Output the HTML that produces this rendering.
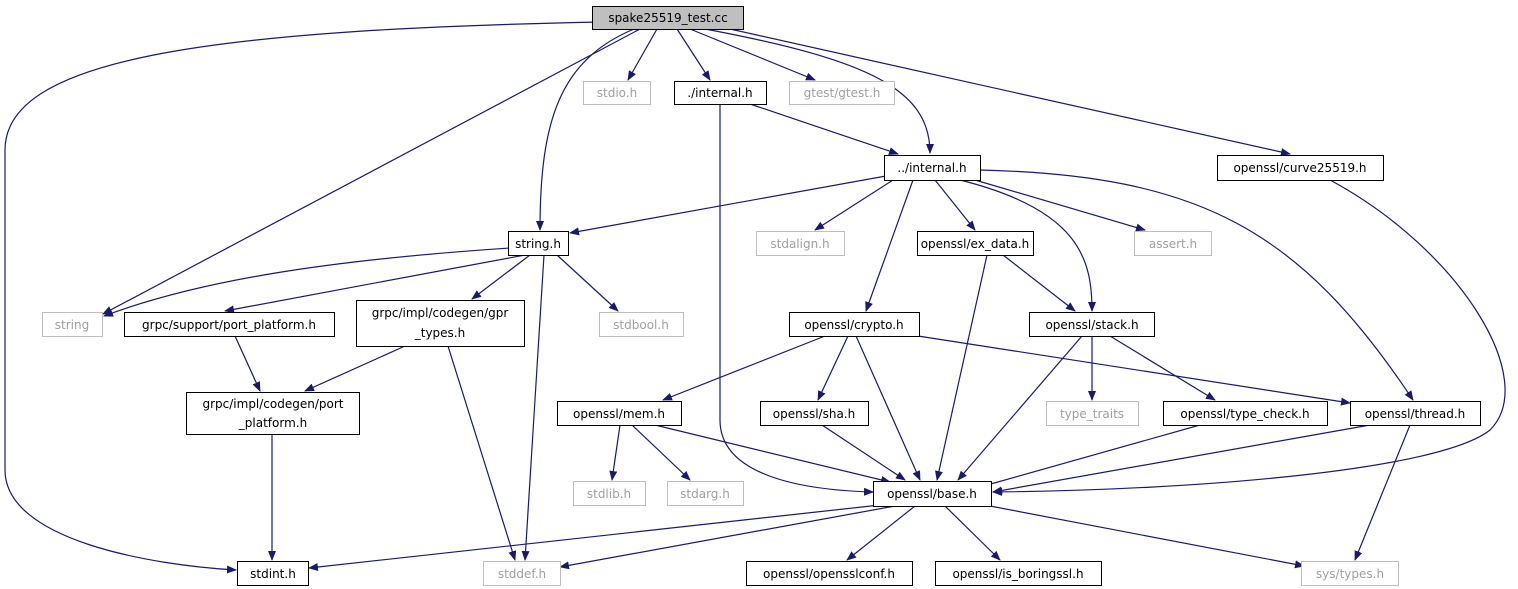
<!DOCTYPE html>
<html><head><meta charset="utf-8"><style>
html,body{margin:0;padding:0;background:#fff;}
svg{display:block;}
text{font-family:"DejaVu Sans","Liberation Sans",sans-serif;font-size:12px;text-anchor:middle;fill:#000;}
.n{fill:#fff;stroke:#000;stroke-width:1;}
.g{fill:#fff;stroke:#bfbfbf;stroke-width:1;}
.gt{fill:#a0a0a0;}
.e{fill:none;stroke:#191970;stroke-width:1.2;marker-end:url(#a);}
</style></head><body>
<svg width="1518" height="589" viewBox="0 0 1518 589">
<defs><marker id="a" markerWidth="10" markerHeight="8" refX="9" refY="4" orient="auto" markerUnits="userSpaceOnUse"><path d="M0,0 L10,4 L0,8 z" fill="#191970"/></marker></defs>
<!-- edges -->
<path class="e" d="M600,22 C200,30 5,60 5,150 L5,470 C5,540 150,565 236,570"/>
<path class="e" d="M640,29 L103,314"/>
<path class="e" d="M634,29 C560,60 540,120 540,230"/>
<path class="e" d="M657,29 L628,80"/>
<path class="e" d="M677,29 L710,80"/>
<path class="e" d="M690,29 L815,80"/>
<path class="e" d="M705,29 C870,60 930,90 930,153"/>
<path class="e" d="M730,29 L1290,154"/>
<path class="e" d="M750,104 L898,154"/>
<path class="e" d="M720,104 L720,420 C720,475 800,490 873,492"/>
<path class="e" d="M886,176 L570,233"/>
<path class="e" d="M893,180 L815,230"/>
<path class="e" d="M913,180 L866,311"/>
<path class="e" d="M935,180 L975,230"/>
<path class="e" d="M960,180 C1080,210 1092,260 1092,311"/>
<path class="e" d="M975,180 L1145,230"/>
<path class="e" d="M979,170 C1200,175 1300,230 1413,400"/>
<path class="e" d="M1330,180 C1460,250 1540,380 1490,430 C1440,470 1200,490 993,492"/>
<path class="e" d="M510,248 C330,260 200,280 104,316"/>
<path class="e" d="M525,255 L225,311"/>
<path class="e" d="M530,255 L472,299"/>
<path class="e" d="M557,255 L618,311"/>
<path class="e" d="M544,255 L525,560"/>
<path class="e" d="M235,336 L260,391"/>
<path class="e" d="M405,346 L305,391"/>
<path class="e" d="M448,346 L515,560"/>
<path class="e" d="M272,434 L272,560"/>
<path class="e" d="M987,255 L937,480"/>
<path class="e" d="M1003,255 L1075,311"/>
<path class="e" d="M825,336 L663,400"/>
<path class="e" d="M848,336 L818,400"/>
<path class="e" d="M856,336 L920,480"/>
<path class="e" d="M918,336 L1350,403"/>
<path class="e" d="M1082,336 L958,480"/>
<path class="e" d="M1092,336 L1092,400"/>
<path class="e" d="M1110,336 L1215,400"/>
<path class="e" d="M620,425 L612,480"/>
<path class="e" d="M632,425 L690,480"/>
<path class="e" d="M655,425 L890,482"/>
<path class="e" d="M822,425 L905,480"/>
<path class="e" d="M1200,425 L980,487"/>
<path class="e" d="M1370,425 L993,492"/>
<path class="e" d="M1410,425 L1355,560"/>
<path class="e" d="M880,505 L309,568"/>
<path class="e" d="M895,506 L560,567"/>
<path class="e" d="M915,506 L847,560"/>
<path class="e" d="M945,506 L1000,560"/>
<path class="e" d="M990,506 L1304,566"/>
<!-- nodes -->
<rect x="592.5" y="6.5" width="151" height="23" fill="#bfbfbf" stroke="#000"/><text x="668" y="22">spake25519_test.cc</text>
<rect class="g" x="583.5" y="81.5" width="67" height="23"/><text class="gt" x="617" y="97">stdio.h</text>
<rect class="n" x="674.5" y="81.5" width="92" height="23"/><text x="720" y="97">./internal.h</text>
<rect class="g" x="789.5" y="81.5" width="105" height="23"/><text class="gt" x="842" y="97">gtest/gtest.h</text>
<rect class="n" x="884.5" y="155.5" width="96" height="25"/><text x="932" y="172">../internal.h</text>
<rect class="n" x="1217.5" y="155.5" width="166" height="25"/><text x="1300" y="172">openssl/curve25519.h</text>
<rect class="n" x="508.5" y="231.5" width="60" height="24"/><text x="538" y="248">string.h</text>
<rect class="g" x="756.5" y="231.5" width="88" height="24"/><text class="gt" x="800" y="248">stdalign.h</text>
<rect class="n" x="917.5" y="231.5" width="116" height="24"/><text x="975" y="248">openssl/ex_data.h</text>
<rect class="g" x="1134.5" y="231.5" width="77" height="24"/><text class="gt" x="1173" y="248">assert.h</text>
<rect class="g" x="42.5" y="312.5" width="60" height="24"/><text class="gt" x="72" y="329">string</text>
<rect class="n" x="124.5" y="312.5" width="210" height="24"/><text x="229" y="329">grpc/support/port_platform.h</text>
<rect class="n" x="356.5" y="300.5" width="168" height="46"/><text x="440" y="317">grpc/impl/codegen/gpr</text><text x="440" y="337">_types.h</text>
<rect class="g" x="599.5" y="312.5" width="84" height="24"/><text class="gt" x="641" y="329">stdbool.h</text>
<rect class="n" x="789.5" y="312.5" width="130" height="24"/><text x="854" y="329">openssl/crypto.h</text>
<rect class="n" x="1029.5" y="312.5" width="125" height="24"/><text x="1092" y="329">openssl/stack.h</text>
<rect class="n" x="186.5" y="392.5" width="173" height="42"/><text x="273" y="408">grpc/impl/codegen/port</text><text x="273" y="427">_platform.h</text>
<rect class="n" x="557.5" y="401.5" width="124" height="24"/><text x="619" y="418">openssl/mem.h</text>
<rect class="n" x="760.5" y="401.5" width="108" height="24"/><text x="814" y="418">openssl/sha.h</text>
<rect class="g" x="1046.5" y="401.5" width="92" height="24"/><text class="gt" x="1092" y="418">type_traits</text>
<rect class="n" x="1163.5" y="401.5" width="164" height="24"/><text x="1245" y="418">openssl/type_check.h</text>
<rect class="n" x="1350.5" y="401.5" width="130" height="24"/><text x="1415" y="418">openssl/thread.h</text>
<rect class="g" x="573.5" y="481.5" width="72" height="24"/><text class="gt" x="609" y="498">stdlib.h</text>
<rect class="g" x="667.5" y="481.5" width="76" height="24"/><text class="gt" x="705" y="498">stdarg.h</text>
<rect class="n" x="873.5" y="481.5" width="118" height="25"/><text x="932" y="498">openssl/base.h</text>
<rect class="n" x="237.5" y="561.5" width="71" height="24"/><text x="273" y="578">stdint.h</text>
<rect class="g" x="483.5" y="561.5" width="77" height="24"/><text class="gt" x="522" y="578">stddef.h</text>
<rect class="n" x="746.5" y="561.5" width="166" height="24"/><text x="829" y="578">openssl/opensslconf.h</text>
<rect class="n" x="935.5" y="561.5" width="166" height="24"/><text x="1018" y="578">openssl/is_boringssl.h</text>
<rect class="g" x="1301.5" y="561.5" width="97" height="24"/><text class="gt" x="1350" y="578">sys/types.h</text>
</svg>
</body></html>
